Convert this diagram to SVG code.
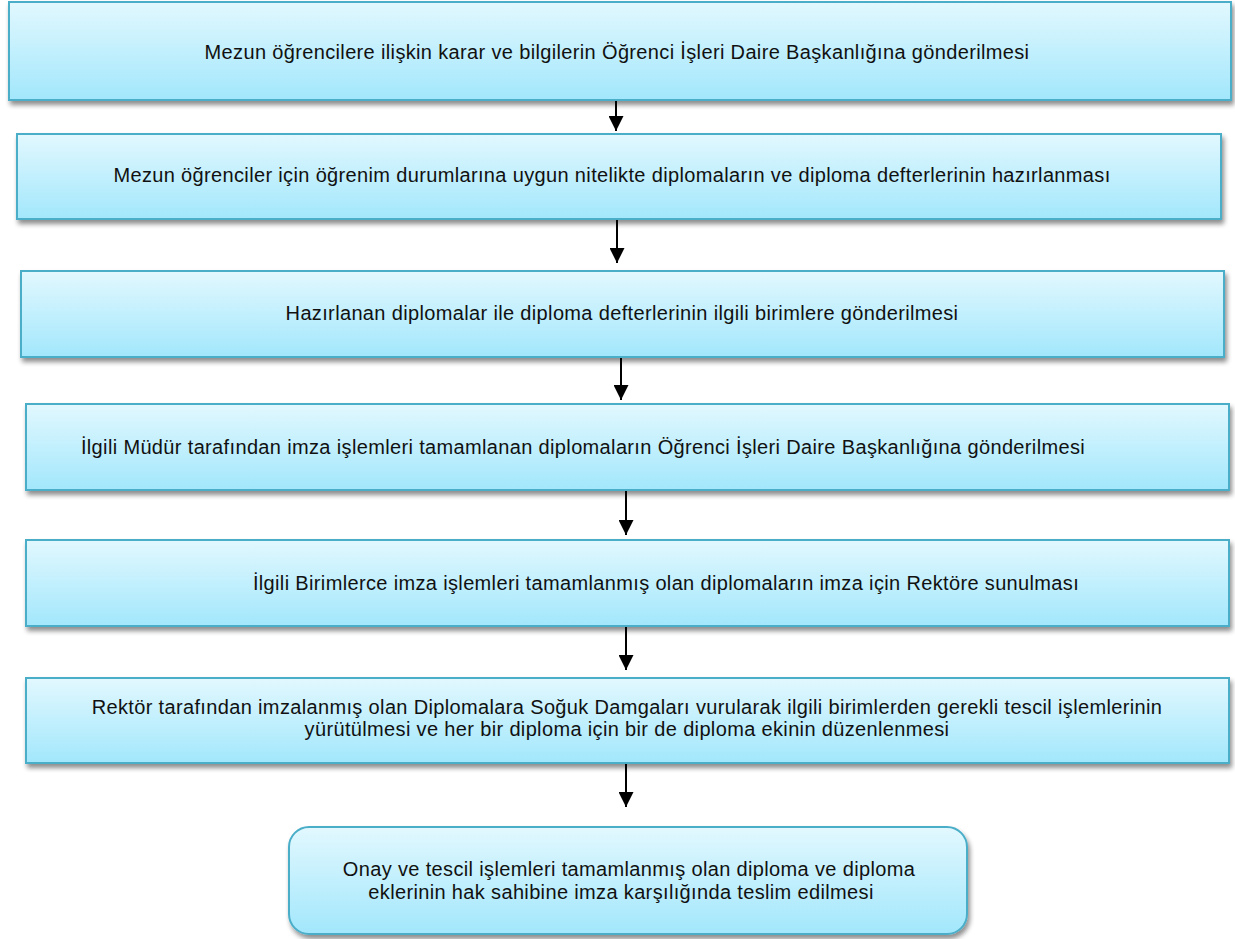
<svg xmlns="http://www.w3.org/2000/svg" width="1235" height="939" viewBox="0 0 1235 939">
<defs>
<linearGradient id="g" x1="0" y1="0" x2="0" y2="1">
<stop offset="0" stop-color="#e2f8fe"/>
<stop offset="1" stop-color="#a2e7fc"/>
</linearGradient>
<filter id="sh" x="-5%" y="-20%" width="110%" height="150%">
<feGaussianBlur in="SourceAlpha" stdDeviation="2.5"/>
<feOffset dx="2" dy="4" result="b"/>
<feComponentTransfer><feFuncA type="linear" slope="0.45"/></feComponentTransfer>
<feMerge><feMergeNode/><feMergeNode in="SourceGraphic"/></feMerge>
</filter>
<marker id="ah" markerWidth="16" markerHeight="15" refX="15" refY="7.5" orient="auto" markerUnits="userSpaceOnUse">
<path d="M0,0 L15,7.5 L0,15 Z" fill="#000"/>
</marker>
</defs>
<style>
.box{fill:url(#g);stroke:#4baec9;stroke-width:2;filter:url(#sh)}
.t{font-family:"Liberation Sans",Arial,sans-serif;font-size:20px;letter-spacing:0.35px;fill:#111;text-anchor:middle}
.c{stroke:#000;stroke-width:2;fill:none;marker-end:url(#ah)}
</style>
<rect width="1235" height="939" fill="#fff"/>
<g id="connectors">
<line class="c" x1="616" y1="100" x2="616" y2="131"/>
<line class="c" x1="617" y1="219" x2="617" y2="263"/>
<line class="c" x1="621" y1="357" x2="621" y2="400"/>
<line class="c" x1="626" y1="490" x2="626" y2="535"/>
<line class="c" x1="626" y1="626" x2="626" y2="670"/>
<line class="c" x1="626" y1="763" x2="626" y2="807"/>
</g>
<g id="n1"><rect class="box" x="9" y="2" width="1222" height="98"/>
<text class="t" x="617" y="59">Mezun öğrencilere ilişkin karar ve bilgilerin Öğrenci İşleri Daire Başkanlığına gönderilmesi</text></g>
<g id="n2"><rect class="box" x="17" y="134" width="1204" height="85"/>
<text class="t" x="612" y="182">Mezun öğrenciler için öğrenim durumlarına uygun nitelikte diplomaların ve diploma defterlerinin hazırlanması</text></g>
<g id="n3"><rect class="box" x="21" y="271" width="1203" height="86"/>
<text class="t" x="622" y="320">Hazırlanan diplomalar ile diploma defterlerinin ilgili birimlere gönderilmesi</text></g>
<g id="n4"><rect class="box" x="26" y="404" width="1203" height="86"/>
<text class="t" x="583" y="454">İlgili Müdür tarafından imza işlemleri tamamlanan diplomaların Öğrenci İşleri Daire Başkanlığına gönderilmesi</text></g>
<g id="n5"><rect class="box" x="26" y="540" width="1203" height="86"/>
<text class="t" x="666" y="590">İlgili Birimlerce imza işlemleri tamamlanmış olan diplomaların imza için Rektöre sunulması</text></g>
<g id="n6"><rect class="box" x="26" y="678" width="1203" height="85"/>
<text class="t" x="627" y="714">Rektör tarafından imzalanmış olan Diplomalara Soğuk Damgaları vurularak ilgili birimlerden gerekli tescil işlemlerinin</text>
<text class="t" x="627" y="736">yürütülmesi ve her bir diploma için bir de diploma ekinin düzenlenmesi</text></g>
<g id="n7"><rect class="box" x="289" y="827" width="678" height="107" rx="20" ry="20"/>
<text class="t" x="629" y="876">Onay ve tescil işlemleri tamamlanmış olan diploma ve diploma</text>
<text class="t" x="621" y="899">eklerinin hak sahibine imza karşılığında teslim edilmesi</text></g>
</svg>
